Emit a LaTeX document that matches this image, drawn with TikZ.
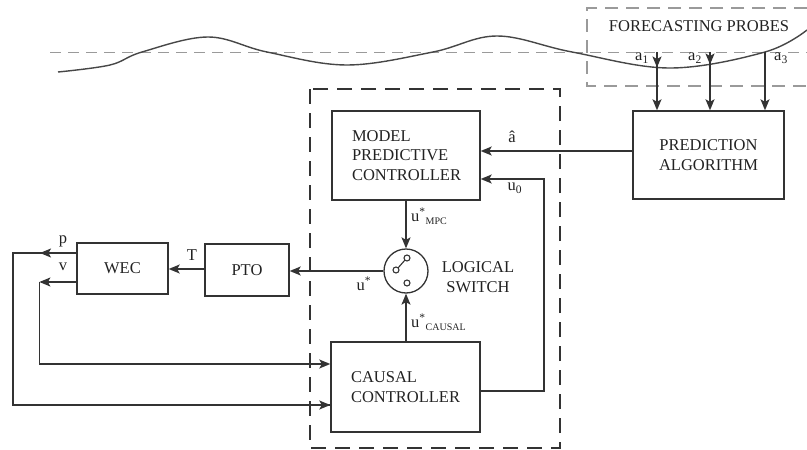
\documentclass[tikz,border=0pt]{standalone}
\usepackage{fontspec}
\setmainfont{Liberation Serif}
\usetikzlibrary{arrows.meta,calc}
\definecolor{ln}{HTML}{333333}
\definecolor{txt}{HTML}{222222}
\definecolor{lgray}{HTML}{9A9A9A}
\begin{document}
\begin{tikzpicture}[x=1pt,y=-1pt,
  font=\fontsize{16.5}{19.5}\selectfont, text=txt,
  arr/.style={draw=ln,line width=1.4pt,-{Stealth[length=11pt,width=9pt,inset=2.5pt]}},
  ln/.style={draw=ln,line width=1.4pt},
  blk/.style={draw=ln,line width=1.4pt,inner sep=0pt},
  lbl/.style={inner sep=0pt},
]
\useasboundingbox (0,0) rectangle (807,450);
% sea level and wave
\draw[lgray,line width=1pt,dash pattern=on 11pt off 7pt] (50,52) -- (807,52);
\draw[draw=ln!90,line width=1.4pt] plot[smooth,tension=0.6] coordinates
  {(58,72) (110,65) (142,52) (208,37) (267,52) (347,65) (433,52) (497,36) (572,52) (670,68) (765,52) (807,30)};
% forecasting probes box
\draw[lgray,line width=1.1pt,dash pattern=on 13pt off 8pt] (807,8) -- (587,8) -- (587,86) -- (807,86);
\node[lbl] (fp) at (699,26) {FORECASTING PROBES};
% inner dashed box
\draw[ln,line width=1.3pt,dash pattern=on 15pt off 9pt] (310,89) rectangle (560,448);
% blocks
\node[blk,minimum width=151pt,minimum height=88pt,align=center] (pa) at (708.5,155) {PREDICTION\\ALGORITHM};
\node[blk,minimum width=148pt,minimum height=89pt,text width=108pt,inner xsep=20pt,align=left] (mpc) at (406,155.5) {MODEL\\PREDICTIVE\\CONTROLLER};
\node[blk,minimum width=149pt,minimum height=90pt,text width=109pt,inner xsep=20pt,align=left] (cc) at (405.5,387) {CAUSAL\\CONTROLLER};
\node[blk,minimum width=91pt,minimum height=51pt] (wec) at (122.5,268.5) {WEC};
\node[blk,minimum width=84pt,minimum height=52pt] (pto) at (247,270) {PTO};
\node[circle,draw=ln,line width=1.3pt,minimum size=44pt,inner sep=0pt] (sw) at (406,271) {};
% switch symbol
\draw[ln,line width=1.1pt] (396,270) circle (3pt) (407,258) circle (3pt) (407,283) circle (3pt);
\draw[ln,line width=1.1pt] (398.1,267.9) -- (404.9,260.1);
% probe arrows
\draw[arr] (657,52) -- (657,67.5);
\draw[arr] (710,52) -- (710,64.5);
\draw[arr] (657,52) -- (pa.north -| 657,0);
\draw[arr] (710,52) -- (pa.north -| 710,0);
\draw[arr] (765,52) -- (pa.north -| 765,0);
\node[lbl] (a1) at (642,58) {a\textsubscript{1}};
\node[lbl] (a2) at (695,58) {a\textsubscript{2}};
\node[lbl] (a3) at (781,58) {a\textsubscript{3}};
% a hat
\draw[arr] (pa.west |- 0,151) -- (mpc.east |- 0,151);
\node[lbl] (ahat) at (512,137) {â};
% u0
\draw[arr] (cc.east |- 0,391) -- (544,391) -- (544,179) -- (mpc.east |- 0,179);
\node[lbl] (u0) at (515,188) {u\textsubscript{0}};
% switch inputs
\draw[arr] (sw |- mpc.south) -- (sw.north);
\draw[arr] (sw |- cc.north) -- (sw.south);
\node[lbl,anchor=west] (umpc) at (411,216) {u\textsuperscript{*}\textsubscript{\fontsize{10}{12}\selectfont MPC}};
\node[lbl,anchor=west] (ucau) at (411,322) {u\textsuperscript{*}\textsubscript{\fontsize{10}{12}\selectfont CAUSAL}};
\node[lbl,align=center] (lsw) at (478,277) {LOGICAL\\SWITCH};
% u*
\draw[arr] (sw.west) -- (pto.east |- sw.west);
\node[lbl] (us) at (364,284) {u\textsuperscript{*}};
% T
\draw[arr] (pto.west |- 0,269) -- (wec.east |- 0,269);
\node[lbl] (T) at (192,255) {T};
% p feedback
\draw[ln] (wec.west |- 0,253) -- (13,253) |- (cc.west |- 0,405);
\draw[arr] (wec.west |- 0,253) -- (40,253);
\draw[arr] (13,405) -- (cc.west |- 0,405);
\node[lbl] (p) at (63,241) {p};
% v feedback
\draw[arr] (wec.west |- 0,282) -- (39.4,282);
\draw[arr] (39.4,282) |- (cc.west |- 0,364);
\node[lbl] (v) at (63,267) {v};
\end{tikzpicture}
\end{document}
